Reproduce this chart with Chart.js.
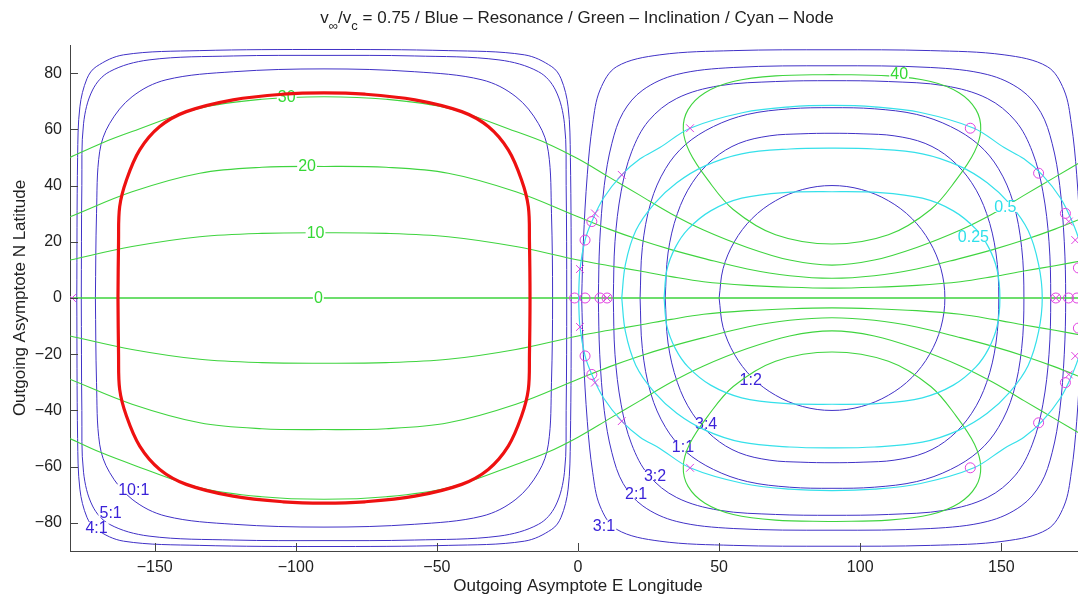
<!DOCTYPE html>
<html>
<head>
<meta charset="utf-8">
<script src="https://cdn.jsdelivr.net/npm/chart.js@4.4.1/dist/chart.umd.min.js"></script>
<style>
    html, body { margin: 0; padding: 0; background: #fff; overflow: hidden; }
    #marco { width: 1078px; height: 603px; overflow: hidden; }
    canvas { display: block; }
</style>
</head>
<body>
<div id="marco"><canvas id="grafico" width="1100" height="603"></canvas></div>
<script>
// =====================================================================
// DATOS (lon E, lat N)
// =====================================================================

const xTicks = [-150, -100, -50, 0, 50, 100, 150];
const yTicks = [-80, -60, -40, -20, 0, 20, 40, 60, 80];

// Resonancia (azul) - cuarto superior izquierdo de cada lazo, centro en lon 90
const res31 = [[1.3, 0], [1.9, 20], [3.3, 44], [5.2, 62], [7.8, 74], [13.7, 82.3], [29, 86.5], [55, 88], [90, 88.3]];
const res21 = [[7.2, 0], [7.7, 20], [9.3, 40], [12, 55], [16, 66], [23, 74], [35, 79.5], [55, 82], [90, 82.6]];
const res32 = [[12.5, 0], [13.1, 20], [15.3, 38], [19, 52], [25, 63], [35, 71], [50, 75.5], [70, 77], [90, 77.3]];
const res11 = [[22, 0], [22.8, 18], [25.8, 34], [31, 46], [38, 54.5], [48, 61], [60, 65.3], [75, 67.3], [90, 67.7]];
const res34 = [[30.9, 0], [31.9, 16], [35.2, 30], [40.5, 41], [48, 49.5], [57, 55], [68, 57.7], [79, 58.4], [90, 58.6]];
const res12 = [[50, 0], [51.4, 10.4], [55.4, 20], [61.7, 28.3], [70, 34.6], [79.6, 38.6], [90, 40]];
// centro en lon -90
const res101 = [[-171, 0], [-170.6, 30], [-169.5, 52], [-166, 62], [-158, 71.6], [-146, 77.6], [-122, 80.5], [-90, 81.5]];
const res51 = [[-176, 0], [-175.8, 40], [-175.2, 62], [-172, 74], [-166, 80.5], [-152, 84.7], [-122, 86.1], [-90, 86.3]];
const res41 = [[-177.6, 0], [-177.3, 50], [-176.5, 68], [-174, 78], [-170.7, 82.3], [-161, 86.5], [-134, 88], [-90, 88.4]];

// Curva roja (cuarto superior izquierdo, centro en lon -90)
const rojo = [[-163, 0], [-162.8, 20], [-162.4, 32.5], [-160, 42], [-155.3, 52.7], [-148.2, 61], [-138.8, 66.3], [-122.2, 70.5], [-104.5, 72.5], [-90, 73]];

// Nodo (cian) - cuarto superior izquierdo, centro en lon 90
const nodo1 = [[0.2, 0], [0.7, 10.3], [2.5, 20.6], [4.9, 27.2], [9, 35.5], [15.5, 43.8], [22, 49.5], [29, 53.5], [39.7, 60.4], [58.6, 66], [75, 68], [90, 68.5]];
const nodo05 = [[15.5, 0], [16.8, 12], [20.5, 24], [27, 33.5], [35, 41], [45, 47], [58, 51.3], [75, 53], [90, 53.3]];
const nodo025 = [[30.5, 0], [31.5, 10], [34.5, 18], [39, 24.5], [47, 31], [58, 35.5], [73, 37.5], [90, 37.8]];

// Inclinación (verde) - mitad norte, de -180 a 180
const incl0 = [[-180, 0], [180, 0]];
const incl10 = [[-180, 13.5], [-158, 18.3], [-134, 21.8], [-112, 23], [-90, 23.2], [-68, 23], [-46, 21.8], [-22, 18.3], [0, 13.5], [11, 11.5], [22, 9.6], [33, 7.6], [44.5, 5.8], [60, 4.5], [75, 3.8], [90, 3.5], [105, 3.8], [120, 4.5], [135.5, 5.8], [147, 7.6], [158, 9.6], [169, 11.5], [180, 13.5]];
const incl20 = [[-180, 28.9], [-158, 37.8], [-134, 44.4], [-112, 46.5], [-90, 46.8], [-68, 46.5], [-46, 44.4], [-22, 37.8], [0, 28.9], [11, 24.5], [22, 20.6], [33, 17.2], [44.5, 14.1], [60, 10.3], [75, 7.9], [90, 7.0], [105, 7.9], [120, 10.3], [135.5, 14.1], [147, 17.2], [158, 20.6], [169, 24.5], [180, 28.9]];
const incl30 = [[-180, 50], [-169, 55], [-158, 59.2], [-134, 67.5], [-112, 70.7], [-90, 71.6], [-68, 70.7], [-46, 67.5], [-22, 59.2], [-11, 55], [0, 49.5], [11, 43], [22, 36.5], [33, 30], [44.5, 24.2], [60, 18], [75, 13.5], [90, 11.7], [105, 13.5], [120, 18], [135.5, 24.2], [147, 30], [158, 36.5], [169, 43], [180, 49.5]];
const incl40 = [[90, 79.5], [110, 79], [125, 77], [135, 73], [141, 67], [142.7, 60], [140.5, 52], [134, 42], [125, 31.5], [110, 22.5], [90, 19.2], [70, 22.5], [55, 31.5], [46, 42], [39.5, 52], [37.3, 60], [39, 67], [45, 73], [55, 77], [70, 79], [90, 79.5]];

// Marcadores magenta
const circulos = [[2.5, 20.6], [4.9, 27.2], [139, 60.4], [163.2, 44.4], [172.7, 30.1], [177.3, 10.7],
    [2.5, -20.6], [4.9, -27.2], [139, -60.4], [163.2, -44.4], [172.7, -30.1], [177.3, -10.7],
    [-1.2, 0], [2.5, 0], [7.8, 0], [10.3, 0], [169.3, 0], [173.8, 0], [176.8, 0]];
const cruces = [[0.7, 10.3], [6, 30.1], [15.5, 43.8], [39.7, 60.4], [173.9, 27.2], [176.2, 20.6],
    [0.7, -10.3], [6, -30.1], [15.5, -43.8], [39.7, -60.4], [173.9, -27.2], [176.2, -20.6],
    [-179.3, 0], [10.3, 0], [169.3, 0]];

// Etiquetas de contorno [texto, lon, lat]
const etiquetasAzul = [['10:1', -157.4, -68], ['5:1', -165.6, -76.3], ['4:1', -170.6, -81.5], ['3:1', 9.2, -80.8],
    ['2:1', 20.6, -69.6], ['3:2', 27.3, -63], ['1:1', 37.2, -52.8], ['3:4', 45.4, -44.7], ['1:2', 61.2, -29.2]];
const etiquetasVerde = [['0', -92, 0], ['10', -93, 23.1], ['20', -96, 47], ['30', -103.2, 71.5], ['40', 113.8, 79.7]];
const etiquetasCian = [['0.5', 151.4, 32.4], ['0.25', 140.1, 21.7]];

// =====================================================================

const AZUL = '#4031c6';
const VERDE = '#3fd43f';
const CIAN = '#35e0ea';
const MAGENTA = '#e040e0';
const ROJO = '#ee1111';
const FUENTE = '"Liberation Sans", Arial, Helvetica, sans-serif';

// arma el lazo cerrado a partir del cuarto superior izquierdo (simetría de la figura)
function cerrarLazo(cuarto, cx) {
    const n = cuarto.length;
    const pts = [];
    cuarto.forEach(p => pts.push({ x: p[0], y: p[1] }));
    for (let i = n - 2; i >= 0; i--) pts.push({ x: 2 * cx - cuarto[i][0], y: cuarto[i][1] });
    for (let i = 1; i < n; i++) pts.push({ x: 2 * cx - cuarto[i][0], y: -cuarto[i][1] });
    for (let i = n - 2; i >= 0; i--) pts.push({ x: cuarto[i][0], y: -cuarto[i][1] });
    return pts;
}
const norte = lista => lista.map(p => ({ x: p[0], y: p[1] }));
const sur = lista => lista.map(p => ({ x: p[0], y: -p[1] }));

function linea(data, color, ancho, orden, grupo) {
    return {
        data: data, showLine: true, borderColor: color, backgroundColor: color,
        borderWidth: ancho, pointRadius: 0, tension: 0.35, order: orden, grupo: grupo
    };
}

const datasets = [];
datasets.push({ data: norte(circulos), showLine: false, pointStyle: 'circle', pointRadius: 5,
    borderColor: MAGENTA, backgroundColor: 'rgba(0,0,0,0)', pointBorderWidth: 1, order: 0 });
datasets.push({ data: norte(cruces), showLine: false, pointStyle: 'crossRot', pointRadius: 5.5,
    borderColor: MAGENTA, backgroundColor: MAGENTA, pointBorderWidth: 1, order: 0 });
datasets.push(linea(cerrarLazo(rojo, -90), ROJO, 3.2, 1, 'rojo'));
[nodo1, nodo05, nodo025].forEach(c => datasets.push(linea(cerrarLazo(c, 90), CIAN, 1.2, 2, 'cian')));
[incl0, incl10, incl20, incl30, incl40].forEach(c => {
    datasets.push(linea(norte(c), VERDE, 1.1, 3, 'verde'));
    datasets.push(linea(sur(c), VERDE, 1.1, 3, 'verde'));
});
[res31, res21, res32, res11, res34, res12].forEach(c => datasets.push(linea(cerrarLazo(c, 90), AZUL, 1, 4, 'azul')));
[res101, res51, res41].forEach(c => datasets.push(linea(cerrarLazo(c, -90), AZUL, 1, 4, 'azul')));

// el último dataset dibujado de cada grupo es el de menor índice
const ultimoDe = g => datasets.findIndex(d => d.grupo === g);
const etiquetasPorIndice = {};
etiquetasPorIndice[ultimoDe('azul')] = [etiquetasAzul, '#3a22d8'];
etiquetasPorIndice[ultimoDe('verde')] = [etiquetasVerde, '#35d835'];
etiquetasPorIndice[ultimoDe('cian')] = [etiquetasCian, '#2fe0ea'];

const fmtMenos = v => (v < 0 ? '\u2212' + Math.abs(v) : String(v));

// etiquetas de contorno (cortan su propia familia de curvas), marcas hacia adentro y título
const decoracion = {
    id: 'decoracion',
    afterDatasetDraw(chart, args) {
        const grupo = etiquetasPorIndice[args.index];
        if (!grupo) return;
        const [lista, color] = grupo;
        const { ctx, scales: { x, y } } = chart;
        ctx.save();
        ctx.font = '16px ' + FUENTE;
        ctx.textAlign = 'center';
        ctx.textBaseline = 'middle';
        lista.forEach(([t, lx, ly]) => {
            const px = x.getPixelForValue(lx);
            const py = y.getPixelForValue(ly);
            const w = ctx.measureText(t).width;
            ctx.fillStyle = '#fff';
            ctx.fillRect(px - w / 2 - 1, py - 5, w + 2, 10);
            ctx.fillStyle = color;
            ctx.fillText(t, px, py + 1);
        });
        ctx.restore();
    },
    afterDraw(chart) {
        const { ctx, chartArea, scales: { x, y } } = chart;
        ctx.save();
        ctx.strokeStyle = '#444';
        ctx.lineWidth = 1;
        ctx.beginPath();
        xTicks.forEach(v => {
            const px = Math.round(x.getPixelForValue(v)) + 0.5;
            ctx.moveTo(px, chartArea.bottom);
            ctx.lineTo(px, chartArea.bottom - 8);
        });
        yTicks.forEach(v => {
            const py = Math.round(y.getPixelForValue(v)) + 0.5;
            ctx.moveTo(chartArea.left, py);
            ctx.lineTo(chartArea.left + 8, py);
        });
        ctx.stroke();

        const partes = [
            { t: 'v', sub: false }, { t: '\u221e', sub: true }, { t: '/v', sub: false }, { t: 'c', sub: true },
            { t: ' = 0.75 / Blue \u2013 Resonance / Green \u2013 Inclination / Cyan \u2013 Node', sub: false }
        ];
        const fNormal = '17px ' + FUENTE;
        const fSub = '13px ' + FUENTE;
        let total = 0;
        partes.forEach(p => { ctx.font = p.sub ? fSub : fNormal; p.w = ctx.measureText(p.t).width; total += p.w; });
        let cx = 577 - total / 2;
        ctx.fillStyle = '#222';
        ctx.textAlign = 'left';
        ctx.textBaseline = 'alphabetic';
        partes.forEach(p => {
            ctx.font = p.sub ? fSub : fNormal;
            ctx.fillText(p.t, cx, p.sub ? 30 : 23);
            cx += p.w;
        });
        ctx.restore();
    }
};

new Chart(document.getElementById('grafico').getContext('2d'), {
    type: 'scatter',
    data: { datasets: datasets },
    options: {
        responsive: false,
        animation: false,
        layout: { padding: { top: 45, right: 14, left: 0, bottom: 0 } },
        plugins: { legend: { display: false }, tooltip: { enabled: false }, title: { display: false } },
        scales: {
            x: {
                type: 'linear', min: -180, max: 180,
                afterBuildTicks: s => { s.ticks = xTicks.map(v => ({ value: v })); },
                afterFit: s => { s.height = 52; },
                ticks: { callback: fmtMenos, font: { size: 16, family: FUENTE }, color: '#222', padding: 7, maxRotation: 0, autoSkip: false },
                grid: { display: false, drawTicks: false },
                border: { display: true, color: '#444', width: 1 },
                title: { display: true, text: 'Outgoing Asymptote E Longitude', font: { size: 17, family: FUENTE }, color: '#222', padding: { top: 0, bottom: 6 } }
            },
            y: {
                type: 'linear', min: -90, max: 90,
                afterBuildTicks: s => { s.ticks = yTicks.map(v => ({ value: v })); },
                afterFit: s => { s.width = 70; },
                ticks: { callback: fmtMenos, font: { size: 16, family: FUENTE }, color: '#222', padding: 8, autoSkip: false },
                grid: { display: false, drawTicks: false },
                border: { display: true, color: '#444', width: 1 },
                title: { display: true, text: 'Outgoing Asymptote N Latitude', font: { size: 17, family: FUENTE }, color: '#222', padding: { top: 10, bottom: 0 } }
            }
        }
    },
    plugins: [decoracion]
});
</script>
</body>
</html>
